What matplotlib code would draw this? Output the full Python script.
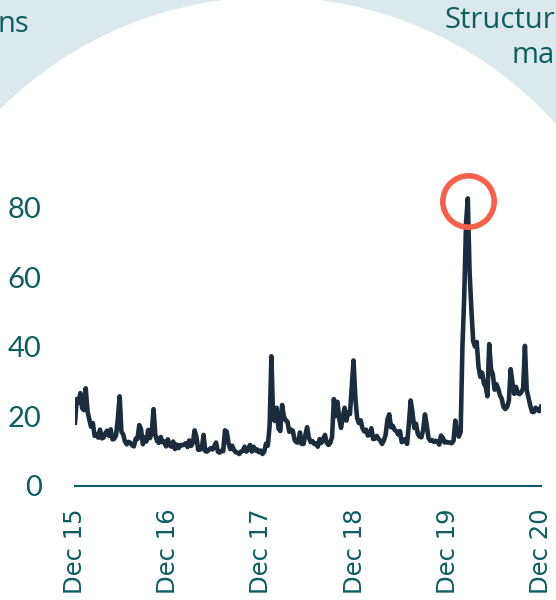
import numpy as np
import pandas as pd
import matplotlib
matplotlib.use("Agg")
import matplotlib.pyplot as plt
import matplotlib.dates as mdates
from matplotlib.patches import Ellipse

# weekly VIX closes (Dec 2015 - Dec 2020)
vix_2016 = [18.2, 25.0, 23.9, 26.7, 22.4, 21.8, 28.1, 21.6, 19.1, 17.0,
            18.1, 14.4, 14.9, 13.9, 16.2, 13.7, 13.9, 15.2, 15.9, 14.4,
            16.3, 13.4, 13.6, 14.6, 19.4, 25.8, 15.6, 14.8, 12.8, 12.0,
            12.7, 12.4, 11.7, 11.4, 13.6, 13.5, 17.5, 16.3, 12.0, 14.0,
            12.8, 16.1, 13.8, 15.4, 22.1, 14.7, 12.9, 12.4, 14.1, 12.6,
            12.8, 11.4, 13.4]
vix_2017 = [11.7, 11.3, 12.8, 10.6, 11.9, 10.9, 11.8, 11.7, 11.9, 12.3,
            11.2, 13.1, 11.5, 12.4, 16.0, 14.2, 10.4, 10.5, 10.6, 14.7,
            10.0, 9.9, 10.4, 10.9, 10.5, 11.4, 12.5, 9.9, 9.6, 10.1,
            10.0, 16.0, 15.6, 12.2, 10.6, 11.6, 10.4, 9.7, 9.6, 9.2,
            9.9, 10.1, 11.3, 9.9, 10.5, 11.8, 9.9, 11.3, 10.2, 10.5,
            9.7, 10.2]
vix_2018 = [9.2, 9.9, 12.2, 11.6, 17.3, 37.3, 19.1, 18.7, 22.5, 16.5,
            15.8, 23.3, 20.0, 18.9, 18.5, 15.6, 16.2, 15.9, 13.2, 12.6,
            12.5, 15.4, 12.1, 12.1, 14.6, 16.9, 13.9, 12.6, 12.9, 12.1,
            12.2, 11.3, 13.5, 12.4, 13.5, 14.7, 12.4, 11.8, 12.4, 14.2,
            25.0, 20.1, 24.2, 19.3, 16.7, 20.0, 22.5, 18.8, 21.2, 20.7,
            28.4, 36.1]
vix_2019 = [25.5, 19.5, 18.1, 18.9, 16.6, 15.7, 16.2, 14.5, 14.8, 16.6,
            13.5, 13.6, 14.4, 13.6, 13.0, 12.1, 13.1, 14.8, 19.1, 20.6,
            16.9, 17.3, 16.1, 15.8, 14.8, 15.8, 12.6, 12.9, 13.5, 12.1,
            17.9, 24.6, 21.2, 16.7, 17.9, 15.0, 14.2, 14.0, 16.1, 20.6,
            17.6, 13.8, 13.0, 13.2, 12.7, 13.0, 12.8, 11.9, 14.5, 13.9,
            12.5, 12.7]
vix_2020 = [12.5, 12.5, 12.3, 13.0, 18.8, 15.2, 14.2, 15.6, 40.1, 54.5,
            75.5, 82.7, 61.6, 50.9, 41.7, 40.1, 41.4, 34.2, 31.4, 32.6,
            29.5, 28.6, 25.8, 40.8, 33.5, 32.2, 27.7, 29.3, 28.0, 26.1,
            25.1, 22.7, 22.1, 22.7, 24.5, 33.6, 29.7, 26.5, 28.5, 26.7,
            26.4, 27.0, 28.1, 40.3, 27.6, 25.4, 23.1, 21.3, 21.3, 22.5,
            21.9, 21.5, 22.8]

vix = vix_2016 + vix_2017 + vix_2018 + vix_2019 + vix_2020
dates = pd.date_range("2015-12-31", periods=len(vix), freq="7D")

tick_dates = pd.to_datetime(["2015-12-31", "2016-12-31", "2017-12-31",
                             "2018-12-31", "2019-12-31", "2020-12-31"])
y_ticks = [0, 20, 40, 60, 80]

teal = "#0d5e60"
navy = "#1b2d3c"
coral = "#f9604b"
pale = "#dce9ec"

fig = plt.figure(figsize=(5.56, 6.0), dpi=100)
fig.patch.set_facecolor(pale)
# big white circle behind the chart
fig.add_artist(Ellipse((271 / 556, 1 - 380 / 600), 2 * 383 / 556, 2 * 383 / 600,
                       transform=fig.transFigure, facecolor="white",
                       edgecolor="none", zorder=-5))

ax = fig.add_axes([75 / 556, 114 / 600, 466 / 556, 313 / 600])
ax.set_facecolor("none")
ax.plot(dates, vix, color=navy, lw=3.3, solid_joinstyle="round")

# highlight the peak
i = int(np.argmax(vix))
ax.plot(dates[i], 82, marker="o", ms=37, mfc="none", mec=coral, mew=4,
        clip_on=False)

ax.set_xlim(dates[0], dates[-1])
ax.set_ylim(0, 90)
ax.set_xticks(tick_dates)
ax.xaxis.set_major_formatter(mdates.DateFormatter("Dec %y"))
ax.set_yticks(y_ticks)
for s in ["top", "right", "left"]:
    ax.spines[s].set_visible(False)
ax.spines["bottom"].set_color(teal)
ax.spines["bottom"].set_linewidth(1.5)
ax.tick_params(axis="x", length=0, pad=16, labelsize=17.5, labelcolor=teal,
               labelrotation=90)
ax.tick_params(axis="y", length=0, pad=24, labelsize=21, labelcolor=teal)
for lab in ax.get_yticklabels():
    lab.set_family("Lato")

fig.text(-3 / 556, 1 - 32 / 600, "ns", fontsize=21, color=teal,
         family="Open Sans", ha="left", va="baseline")
fig.text(444 / 556, 1 - 28 / 600, "Structur", fontsize=21, color=teal,
         family="Open Sans", ha="left", va="baseline")
fig.text(511 / 556, 1 - 63 / 600, "ma", fontsize=21, color=teal,
         family="Open Sans", ha="left", va="baseline")

fig.savefig("out.png", dpi=100, facecolor=fig.get_facecolor())
